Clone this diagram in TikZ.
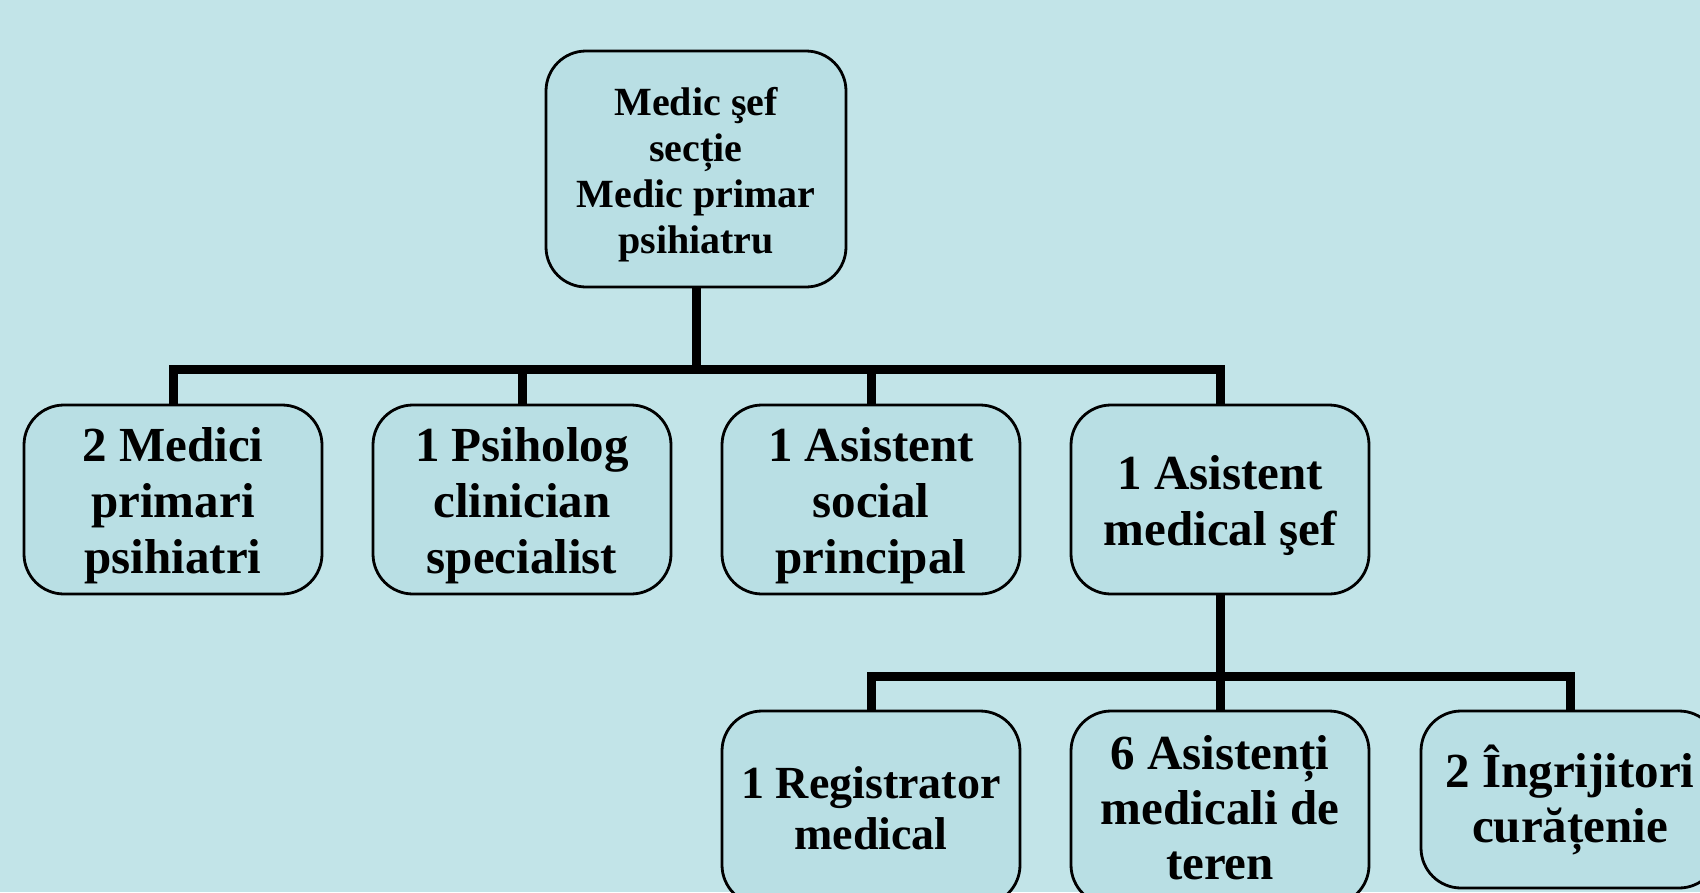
\documentclass[tikz,border=0pt]{standalone}
\usepackage{fontspec}
\setmainfont{Liberation Serif}
\definecolor{bgc}{RGB}{194,228,232}
\definecolor{boxc}{RGB}{185,223,228}
\newcommand{\lowtext}[1]{\raisebox{-6.5pt}[\height][\depth]{\begin{tabular}{@{}c@{}}#1\end{tabular}}}
\begin{document}
\begin{tikzpicture}[x=1pt,y=-1pt,
  box/.style={draw=black, line width=2.8pt, fill=boxc, rounded corners=40pt,
    inner sep=0pt, align=center, minimum width=298pt, font=\bfseries},
  midbox/.style={box, minimum height=189pt,
    font=\bfseries\fontsize{49}{56}\selectfont},
  conn/.style={draw=black, line width=9pt, line join=miter}]
\useasboundingbox (0,0) rectangle (1700,892);
\fill[bgc] (0,0) rectangle (1700,892);
\clip (0,0) rectangle (1700,892);
\node[box, minimum width=300pt, minimum height=236pt,
  font=\bfseries\fontsize{40}{46}\selectfont] (top) at (696,169)
  {\lowtext{Medic şef\\secție\\Medic primar\\psihiatru}};
\node[midbox] (m1) at (173,499.5) {\lowtext{2 Medici\\primari\\psihiatri}};
\node[midbox] (m2) at (522,499.5) {\lowtext{1 Psiholog\\clinician\\specialist}};
\node[midbox] (m3) at (871,499.5) {\lowtext{1 Asistent\\social\\principal}};
\node[midbox] (m4) at (1220,499.5) {\lowtext{1 Asistent\\medical şef}};
\node[box, minimum height=194pt, font=\bfseries\fontsize{46}{51}\selectfont]
  (r1) at (871,808) {1 Registrator\\medical};
\node[box, minimum height=194pt, font=\bfseries\fontsize{49}{55}\selectfont]
  (r2) at (1220,808) {6 Asistenți\\medicali de\\teren};
\node[box, minimum height=177pt, font=\bfseries\fontsize{49}{55}\selectfont]
  (r3) at (1570,799.5) {2 Îngrijitori\\curățenie};
\coordinate (b1) at (696,369);
\coordinate (b2) at (1220,676);
\draw[conn] (top.south) -- (b1);
\draw[conn] (m1.north) |- (b1) -| (m4.north);
\draw[conn] (m2.north) -- (m2.north |- b1);
\draw[conn] (m3.north) -- (m3.north |- b1);
\draw[conn] (m4.south) -- (b2);
\draw[conn] (r1.north) |- (b2) -| (r3.north);
\draw[conn] (r2.north) -- (r2.north |- b2);
\end{tikzpicture}
\end{document}
